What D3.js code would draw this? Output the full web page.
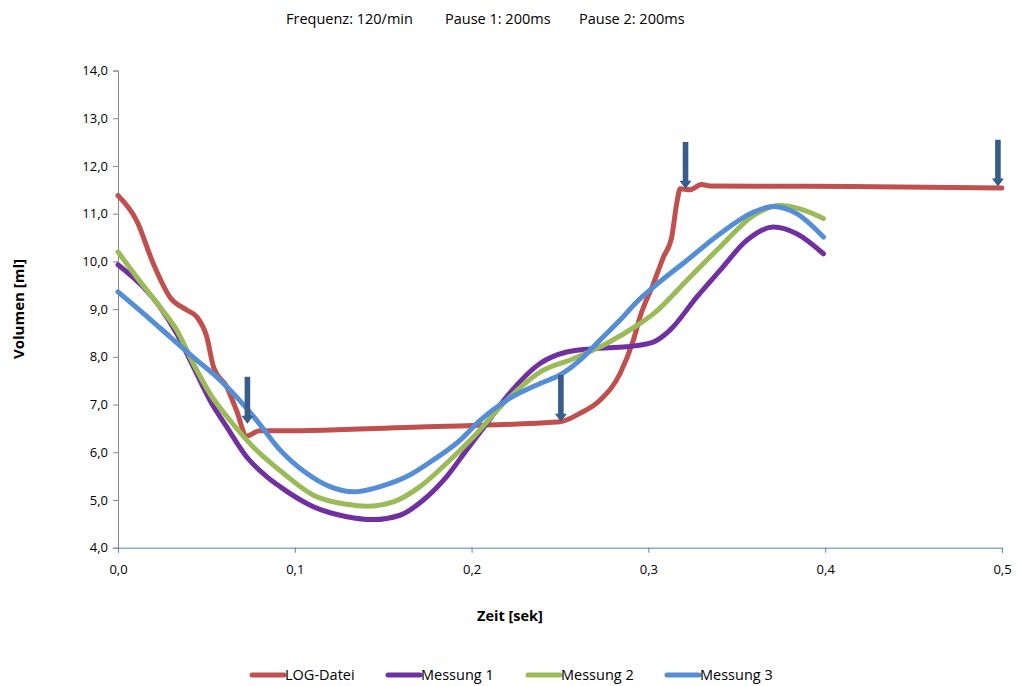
<!DOCTYPE html>
<html>
<head>
<meta charset="utf-8">
<script src="https://cdn.jsdelivr.net/npm/d3@7/dist/d3.min.js"></script>
<style>
  body { margin: 0; background: #fff; }
  svg text { font-family: "Open Sans", "Noto Sans", sans-serif; fill: #000; }
</style>
</head>
<body>
<div id="chart"></div>
<script>
// Time (sek) and volume (ml)
const logTime = [0, 0.0106, 0.020, 0.0294, 0.0389, 0.0445, 0.0502, 0.054, 0.0615, 0.067, 0.0728, 0.080, 0.0916, 0.1708, 0.25, 0.261, 0.2726, 0.284, 0.2915, 0.2953, 0.3028, 0.3085, 0.3132, 0.316, 0.318, 0.3235, 0.330, 0.335, 0.414, 0.5];
const logVals = [11.38, 10.85, 9.95, 9.25, 8.98, 8.84, 8.42, 7.79, 7.37, 6.88, 6.34, 6.45, 6.45, 6.53, 6.64, 6.81, 7.09, 7.65, 8.35, 8.84, 9.53, 10.09, 10.51, 11.21, 11.52, 11.50, 11.61, 11.58, 11.57, 11.54];

const m1Time = [0, 0.0143, 0.0238, 0.0332, 0.0426, 0.052, 0.0615, 0.0728, 0.0841, 0.0916, 0.1105, 0.1294, 0.1444, 0.1595, 0.1727, 0.1859, 0.1972, 0.2085, 0.2198, 0.2387, 0.2538, 0.2688, 0.2877, 0.3028, 0.3122, 0.3273, 0.3405, 0.3556, 0.3707, 0.3839, 0.399];
const m1Vals = [9.93, 9.46, 9.04, 8.49, 7.79, 7.09, 6.53, 5.90, 5.49, 5.28, 4.86, 4.65, 4.59, 4.68, 5.00, 5.49, 6.05, 6.60, 7.16, 7.86, 8.10, 8.17, 8.21, 8.31, 8.56, 9.25, 9.81, 10.44, 10.72, 10.58, 10.16];

const m2Time = [0, 0.0106, 0.0238, 0.0332, 0.0426, 0.052, 0.0633, 0.0765, 0.0935, 0.1105, 0.1294, 0.1407, 0.1557, 0.1708, 0.1859, 0.201, 0.2198, 0.2387, 0.2575, 0.2764, 0.2953, 0.3028, 0.3217, 0.3405, 0.3593, 0.3744, 0.3857, 0.399];
const m2Vals = [10.20, 9.67, 9.04, 8.56, 7.86, 7.23, 6.67, 6.11, 5.56, 5.10, 4.91, 4.87, 4.96, 5.28, 5.77, 6.32, 7.09, 7.68, 7.96, 8.28, 8.70, 8.90, 9.60, 10.30, 10.96, 11.17, 11.10, 10.90];

const m3Time = [0, 0.0143, 0.0294, 0.0445, 0.0558, 0.067, 0.0784, 0.0916, 0.1067, 0.1199, 0.1331, 0.1482, 0.1633, 0.1784, 0.1934, 0.2048, 0.2198, 0.2387, 0.25, 0.2613, 0.2726, 0.284, 0.2934, 0.3028, 0.3217, 0.3405, 0.3593, 0.3707, 0.3839, 0.399];
const m3Vals = [9.36, 8.91, 8.42, 7.93, 7.58, 7.16, 6.67, 6.05, 5.56, 5.28, 5.17, 5.28, 5.49, 5.84, 6.25, 6.67, 7.09, 7.44, 7.62, 7.93, 8.35, 8.77, 9.15, 9.46, 10.02, 10.58, 11.03, 11.15, 11.00, 10.51];

const seriesNames = ["LOG-Datei", "Messung 1", "Messung 2", "Messung 3"];
const seriesColors = ["#c0504d", "#7030a0", "#9bbb59", "#558ed5"];

// pause markers: arrow positions (time, tip volume, top volume)
const arrowTime = [0.0732, 0.2505, 0.321, 0.4977];
const arrowTip = [6.60, 6.64, 11.52, 11.57];
const arrowTop = [7.58, 7.62, 12.50, 12.55];

const xTicks = [0, 0.1, 0.2, 0.3, 0.4, 0.5];
const yTicks = [4, 5, 6, 7, 8, 9, 10, 11, 12, 13, 14];
const titleParts = ["Frequenz: 120/min", "Pause 1: 200ms", "Pause 2: 200ms"];

const W = 1018, H = 686;
const margin = {left: 118, right: 16, top: 70, bottom: 138};

const svg = d3.select("#chart").append("svg")
  .attr("width", W).attr("height", H);

const x = d3.scaleLinear().domain([0, 0.5]).range([margin.left, 1002]);
const y = d3.scaleLinear().domain([4, 14]).range([547.7, 70.5]);

const fmt = d => d3.format(".1f")(d).replace(".", ",");

// y axis
const yAxis = svg.append("g")
  .attr("transform", `translate(${margin.left},0)`)
  .call(d3.axisLeft(y).tickValues(yTicks).tickFormat(fmt).tickSize(5).tickPadding(5));
yAxis.select(".domain").attr("stroke", "#868686");
yAxis.selectAll(".tick line").attr("stroke", "#868686");
yAxis.selectAll(".tick text").attr("font-size", 13);

// x axis
const xAxis = svg.append("g")
  .attr("transform", `translate(0,${y(4)})`)
  .call(d3.axisBottom(x).tickValues(xTicks).tickFormat(fmt).tickSize(5).tickPadding(12));
xAxis.select(".domain").attr("stroke", "#4f81bd");
xAxis.selectAll(".tick line").attr("stroke", "#4f81bd");
xAxis.selectAll(".tick text").attr("font-size", 13);

// titles
svg.append("text").attr("x", 510).attr("y", 621).attr("text-anchor", "middle")
  .attr("font-size", 14.5).attr("font-weight", "bold").text("Zeit [sek]");
svg.append("text").attr("transform", "translate(24,309) rotate(-90)").attr("text-anchor", "middle")
  .attr("font-size", 15).attr("font-weight", "bold").text("Volumen [ml]");

const titleX = [286, 445, 579];
svg.selectAll(".ttl").data(titleParts).join("text")
  .attr("class", "ttl")
  .attr("x", (d, i) => titleX[i]).attr("y", 24)
  .attr("font-size", 14.5).text(d => d);

// lines
const series = [
  {t: logTime, v: logVals},
  {t: m1Time, v: m1Vals},
  {t: m2Time, v: m2Vals},
  {t: m3Time, v: m3Vals}
];
const line = d3.line().x(d => x(d[0])).y(d => y(d[1])).curve(d3.curveMonotoneX);

svg.append("g").selectAll("path").data(series).join("path")
  .attr("d", s => line(s.t.map((t, k) => [t, s.v[k]])))
  .attr("fill", "none")
  .attr("stroke", (s, i) => seriesColors[i])
  .attr("stroke-width", 5)
  .attr("stroke-linejoin", "round")
  .attr("stroke-linecap", "round");

// arrows
const arrows = svg.append("g").attr("fill", "#385d8a");
arrowTime.forEach((t, i) => {
  const cx = x(t), yTop = y(arrowTop[i]), yTip = y(arrowTip[i]);
  const headH = 8, shaft = 2.8, head = 6;
  arrows.append("path")
    .attr("d", `M${cx - shaft},${yTop} L${cx + shaft},${yTop} L${cx + shaft},${yTip - headH}
      L${cx + head},${yTip - headH} L${cx},${yTip} L${cx - head},${yTip - headH}
      L${cx - shaft},${yTip - headH} Z`);
});

// legend
const legendX = [252, 388, 528, 667];
const lg = svg.append("g").selectAll("g").data(seriesNames).join("g")
  .attr("transform", (d, i) => `translate(${legendX[i]},675)`);
lg.append("line").attr("x1", 0).attr("x2", 32).attr("y1", 0).attr("y2", 0)
  .attr("stroke", (d, i) => seriesColors[i]).attr("stroke-width", 5).attr("stroke-linecap", "round");
lg.append("text").attr("x", 33).attr("y", 5).attr("font-size", 14.5).text(d => d);
</script>
</body>
</html>
